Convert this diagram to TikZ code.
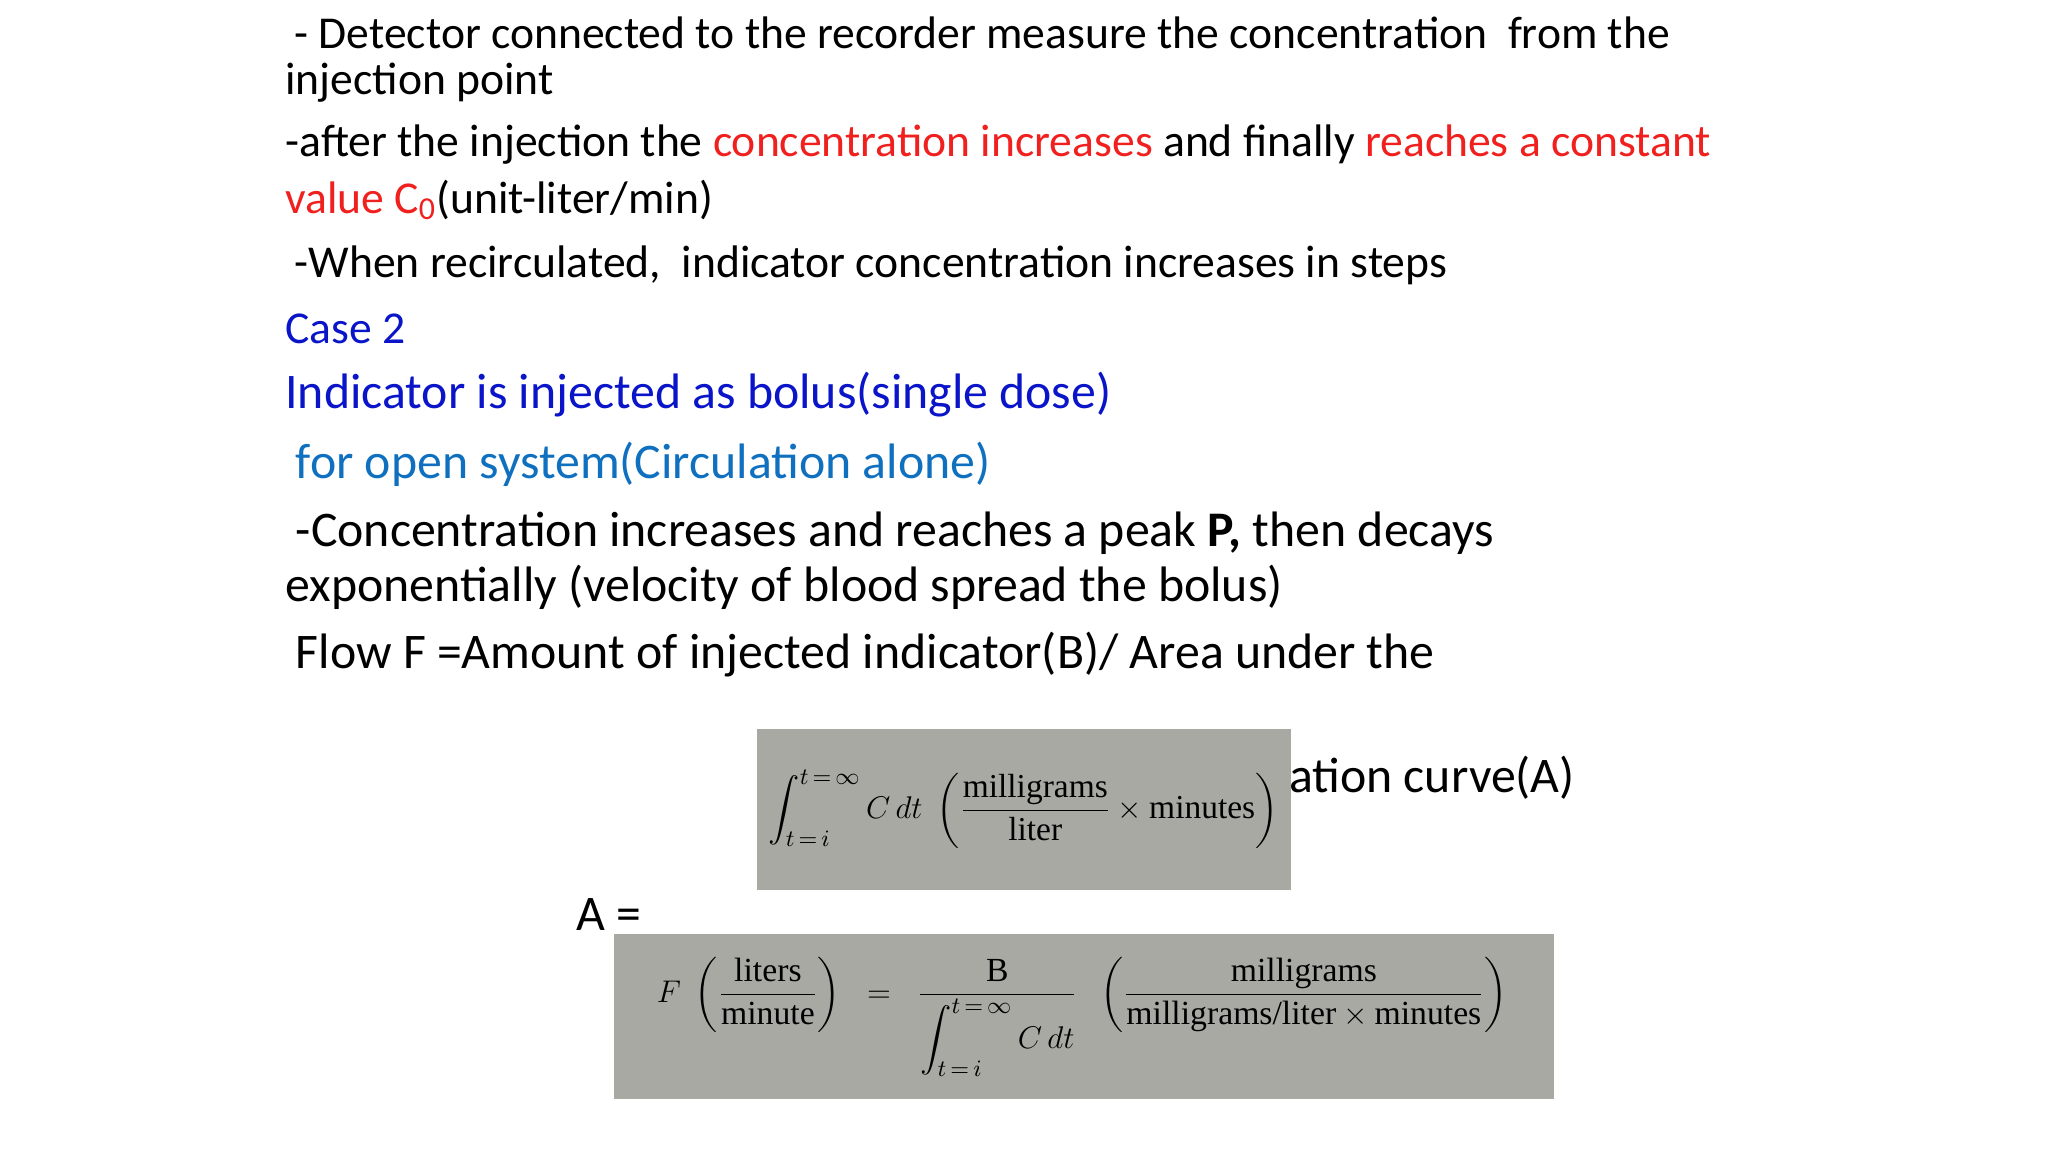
\documentclass[tikz,border=0pt]{standalone}
\usepackage{amsmath}
\usepackage{fontspec}
\setmainfont{Carlito}
\newfontfamily\eqserif{Liberation Serif}
\newcommand{\er}[1]{\text{\eqserif #1}}
\definecolor{myred}{HTML}{F0201E}
\definecolor{myblue}{HTML}{0A14C8}
\definecolor{myblue2}{HTML}{1070C0}
\definecolor{boxgray}{HTML}{A9A9A3}
\begin{document}
\begin{tikzpicture}[x=0.5pt,y=-0.5pt,
  txt/.style={anchor=west,inner sep=0pt,font=\fontsize{17.45}{20}\selectfont},
  big/.style={font=\fontsize{19.05}{22}\selectfont},
  eqbox/.style={fill=boxgray,draw=none}]
\useasboundingbox (0,0) rectangle (1567,881.4);
\node[txt] (l1) at (225,25) {- Detector connected to the recorder measure the concentration\ \ from the};
\node[txt] (l2) at (218,63) {injection point};
\node[txt] (l3) at (218,111) {-after the injection the \textcolor{myred}{concentration increases} and finally \textcolor{myred}{reaches a constant}};
\node[txt] (l4) at (218,153) {\textcolor{myred}{value C$_{\text{0}}$}(unit-liter/min)};
\node[txt] (l5) at (225,203) {-When recirculated,\ \ indicator concentration increases in steps};
\node[txt,text=myblue] (l6) at (218,252) {Case 2};
\node[txt,text=myblue,big] (l7) at (218,302) {Indicator is injected as bolus(single dose)};
\node[txt,text=myblue2,big] (l8) at (226,355) {for open system(Circulation alone)};
\node[txt,big] (l9) at (226,408) {-Concentration increases and reaches a peak \textbf{P,} then decays};
\node[txt,big] (l10) at (218,449) {exponentially (velocity of blood spread the bolus)};
\node[txt,big] (l11) at (226,501) {Flow F =Amount of injected indicator(B)/ Area under the};
\node[txt,big] (l12) at (986,595) {ation curve(A)};
\node[txt,big] (l13) at (441,700) {A =};
\fill[eqbox] (579,558) rectangle (988,681);
\node[inner sep=0pt,font=\fontsize{12.8}{15}\selectfont] (e1) at (783,619)
 {$\displaystyle \int_{t\,=\,i}^{t\,=\,\infty} C\,dt\;\left(\frac{\er{milligrams}}{\er{liter}}\times\er{minutes}\right)$};
\fill[eqbox] (470,715) rectangle (1189,841);
\node[inner sep=0pt,font=\fontsize{12.9}{15}\selectfont] (e2) at (828,778)
 {$\displaystyle F\;\left(\frac{\er{liters}}{\er{minute}}\right)\;\;=\;\;\frac{\er{B}}{\displaystyle\int_{t\,=\,i}^{t\,=\,\infty}C\,dt}\;\;\left(\frac{\er{milligrams}}{\er{milligrams/liter}\times\er{minutes}}\right)$};
\end{tikzpicture}
\end{document}
